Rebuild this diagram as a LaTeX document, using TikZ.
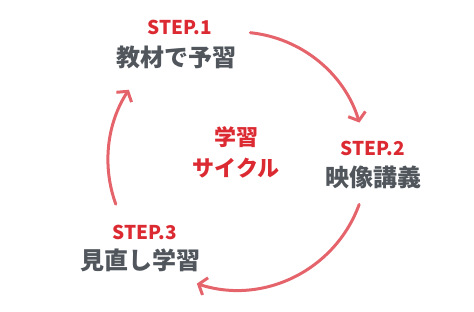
\documentclass[tikz,border=0pt]{standalone}
\usepackage{fontspec}
\setmainfont{Noto Sans CJK JP}
\usepackage{xcolor}
\usetikzlibrary{arrows.meta, positioning}

\definecolor{stepred}{HTML}{DC2A32}
\definecolor{arcred}{HTML}{E5646B}
\definecolor{taskgray}{HTML}{50565C}

\begin{document}
\begin{tikzpicture}[x=1pt, y=1pt, node distance=30pt, on grid,
    steplabel/.style={text=stepred, font=\bfseries\fontsize{19}{19}\selectfont, inner sep=0pt},
    tasklabel/.style={text=taskgray, font=\bfseries\fontsize{24}{24}\selectfont, inner sep=0pt},
    cyclelabel/.style={text=stepred, font=\bfseries\fontsize{22}{22}\selectfont, inner sep=0pt},
    cyclearrow/.style={draw=arcred, line width=3pt, line cap=round,
        -{Straight Barb[length=7pt, width=18pt, line width=3pt]}}]
        \useasboundingbox (0,0) rectangle (474,311);
        \coordinate (c) at (237,151);

        \node[steplabel] (s1) at (180,284) {STEP.1};
        \node[tasklabel] (t1) [below=of s1, xshift=-4pt] {教材で予習};
        \node[steplabel] (s2) at (373,163) {STEP.2};
        \node[tasklabel] (t2) [below=29pt of s2] {映像講義};
        \node[steplabel] (s3) at (145,79) {STEP.3};
        \node[tasklabel] (t3) [below=28pt of s3, xshift=-5pt] {見直し学習};

        \node[cyclelabel] (l1) at (236,174) {学習};
        \node[cyclelabel] (l2) [below=31pt of l1] {サイクル};

        % three arcs round the centre
        \draw[cyclearrow] (c) ++(84:128) arc[start angle=84, end angle=17, radius=128];
        \draw[cyclearrow] (c) ++(-20:130) arc[start angle=-20, end angle=-108, radius=130];
        \draw[cyclearrow] (c) ++(200:129) arc[start angle=200, end angle=147, radius=129];
    \end{tikzpicture}
\end{document}
